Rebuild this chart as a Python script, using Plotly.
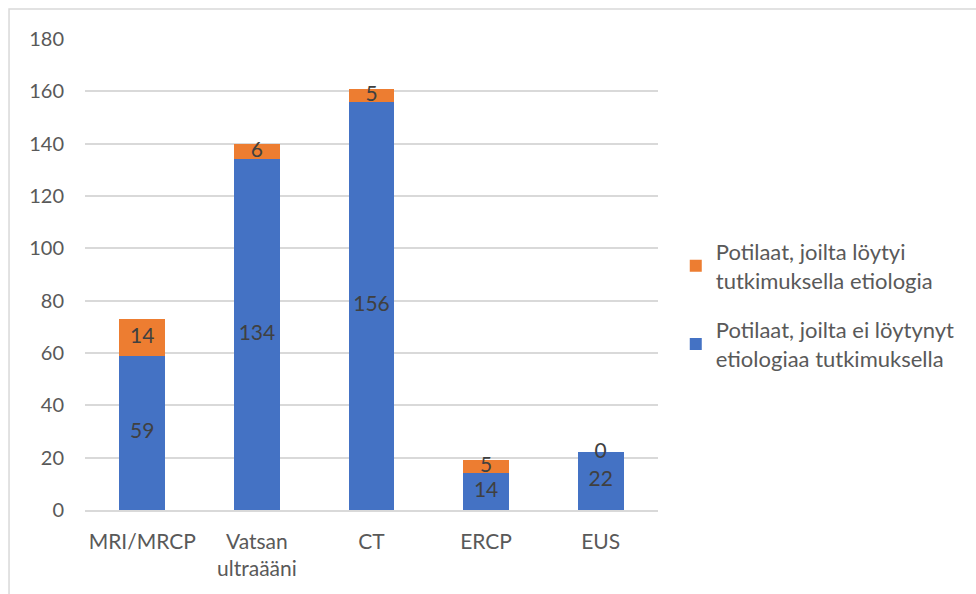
import plotly.graph_objects as go

categories = ["MRI/MRCP", "Vatsan<br>ultraääni", "CT", "ERCP", "EUS"]
ei_loytynyt = [59, 134, 156, 14, 22]
loytyi = [14, 6, 5, 5, 0]

name_ei = "Potilaat, joilta ei löytynyt<br>etiologiaa tutkimuksella"
name_loytyi = "Potilaat, joilta löytyi<br>tutkimuksella etiologia"

BLUE = "#4472C4"
ORANGE = "#ED7D31"
TEXT = "#595959"
GRID = "#D9D9D9"
FONT = "Lato, 'Open Sans', sans-serif"

fig = go.Figure()
fig.add_trace(go.Bar(x=categories, y=ei_loytynyt, name=name_ei, legendgroup="b",
                     marker=dict(color=BLUE, line=dict(width=0)), legendrank=2))
fig.add_trace(go.Bar(x=categories, y=loytyi, name=name_loytyi, legendgroup="a",
                     marker=dict(color=ORANGE, line=dict(width=0)), legendrank=1))

# value labels centred on each segment
label_font = dict(size=21, color="#404040", family=FONT)
fig.add_trace(go.Scatter(x=categories, y=[v / 2 for v in ei_loytynyt],
                         text=[str(v) for v in ei_loytynyt], mode="text",
                         textfont=label_font, showlegend=False, hoverinfo="skip"))
fig.add_trace(go.Scatter(x=categories, y=[b + v / 2 for b, v in zip(ei_loytynyt, loytyi)],
                         text=[str(v) for v in loytyi], mode="text",
                         textfont=label_font, showlegend=False, hoverinfo="skip"))

fig.update_layout(
    width=976, height=594,
    barmode="stack", bargap=0.6,
    margin=dict(l=85, r=318, t=39, b=84),
    paper_bgcolor="white", plot_bgcolor="white",
    font=dict(family=FONT, color=TEXT, size=20),
    legend=dict(x=1.031, y=0.435, xanchor="left", yanchor="middle",
                font=dict(size=22, color=TEXT), itemwidth=30,
                tracegroupgap=18, traceorder="grouped"),
    shapes=[dict(type="rect", xref="paper", yref="paper",
                 x0=-0.1326, x1=2.0, y0=-1.0, y1=1.0637,
                 line=dict(color=GRID, width=1.5), layer="below")],
)
fig.update_yaxes(range=[0, 180], dtick=20, showgrid=True, gridcolor=GRID,
                 gridwidth=1.5, zeroline=False, showline=False,
                 tickfont=dict(size=20, color=TEXT), ticklabelstandoff=20)
fig.update_xaxes(showgrid=False, showline=True, linecolor=GRID, linewidth=1.5,
                 tickfont=dict(size=21, color=TEXT), ticks="", ticklen=0,
                 ticklabelstandoff=12)

fig.write_html("out.html")
